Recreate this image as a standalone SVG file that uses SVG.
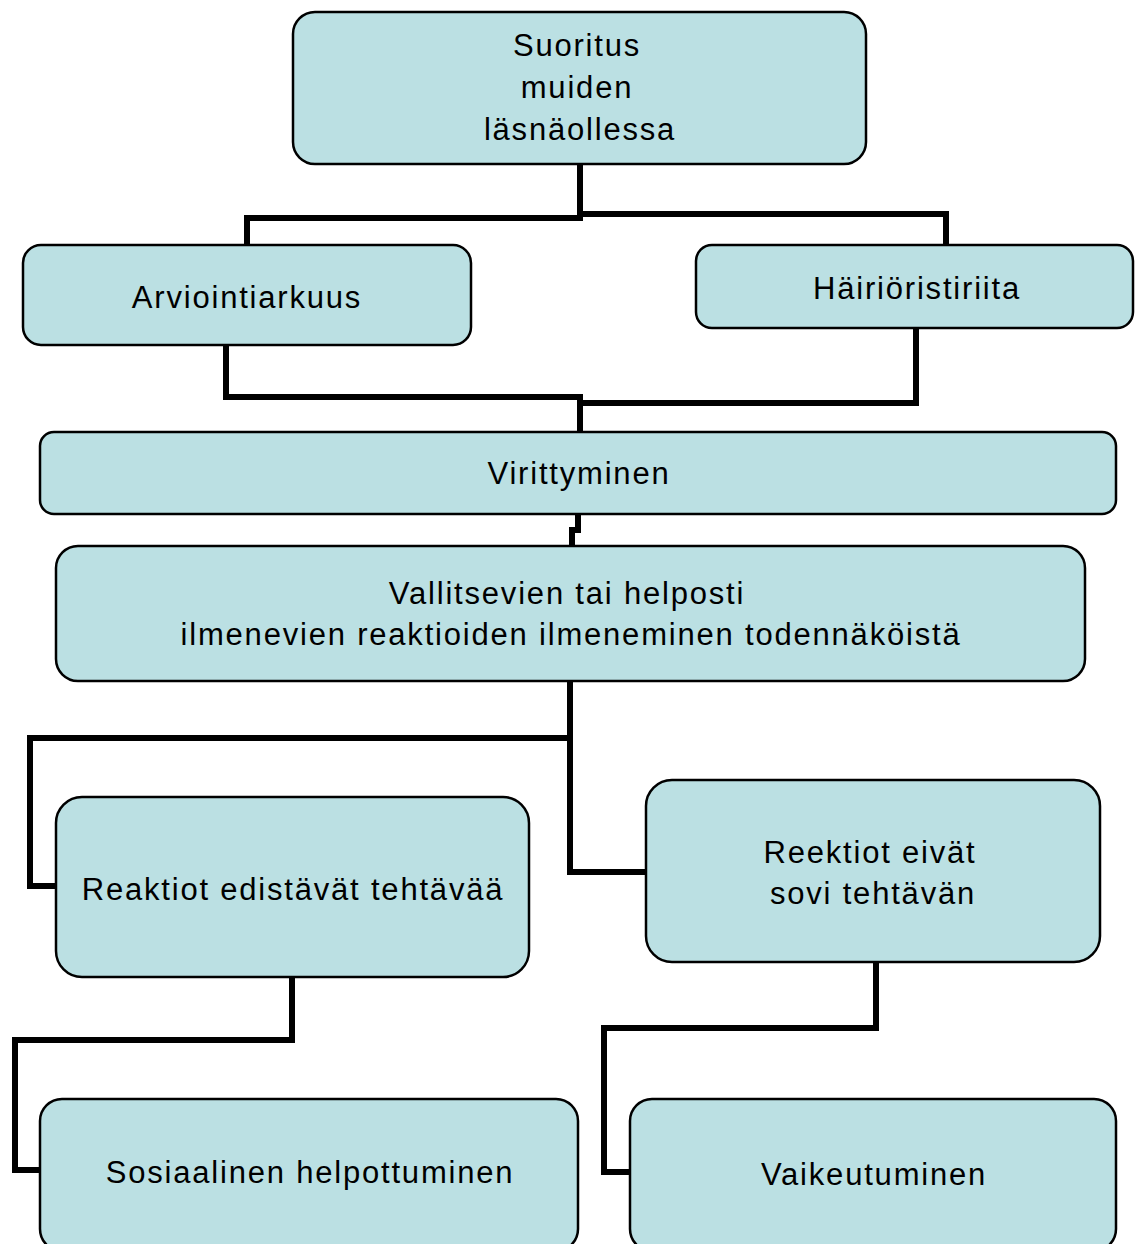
<svg xmlns="http://www.w3.org/2000/svg" width="1135" height="1244" viewBox="0 0 1135 1244">
<style>
.node{fill:#BBE0E3;stroke:#000;stroke-width:2.5}
.lbl{font-family:"Liberation Sans",Arial,sans-serif;font-size:31px;letter-spacing:1.8px;fill:#000;text-anchor:middle}
.conn{fill:none;stroke:#000;stroke-width:6;stroke-linejoin:miter;stroke-linecap:square}
</style>
<rect width="1135" height="1244" fill="#fff"/>
<g id="connectors">
<path class="conn" d="M580,166 V218 M247,243 V218 H580 M946,243 V214 H580"/>
<path class="conn" d="M226,347 V397 H580 V430 M916,330 V403 H583"/>
<path class="conn" d="M578,516 V530 H572 V544"/>
<path class="conn" d="M570,683 V872 H644 M570,738 H30 V886 H54"/>
<path class="conn" d="M292,979 V1040 H15 V1170 H38"/>
<path class="conn" d="M876,964 V1028 H604 V1172 H628"/>
</g>
<g id="n1"><rect class="node" x="293" y="12" width="573" height="152" rx="22"/>
<text class="lbl" x="577" y="56">Suoritus</text><text class="lbl" x="577" y="98">muiden</text><text class="lbl" x="580" y="140">läsnäollessa</text></g>
<g id="n2"><rect class="node" x="23" y="245" width="448" height="100" rx="18"/>
<text class="lbl" x="247" y="308">Arviointiarkuus</text></g>
<g id="n3"><rect class="node" x="696" y="245" width="437" height="83" rx="16"/>
<text class="lbl" x="917" y="299">Häiriöristiriita</text></g>
<g id="n4"><rect class="node" x="40" y="432" width="1076" height="82" rx="14"/>
<text class="lbl" x="579" y="484">Virittyminen</text></g>
<g id="n5"><rect class="node" x="56" y="546" width="1029" height="135" rx="22"/>
<text class="lbl" x="567" y="604">Vallitsevien tai helposti</text><text class="lbl" x="571" y="645">ilmenevien reaktioiden ilmeneminen todennäköistä</text></g>
<g id="n6"><rect class="node" x="56" y="797" width="473" height="180" rx="26"/>
<text class="lbl" x="293" y="900">Reaktiot edistävät tehtävää</text></g>
<g id="n7"><rect class="node" x="646" y="780" width="454" height="182" rx="26"/>
<text class="lbl" x="870" y="863">Reektiot eivät</text><text class="lbl" x="873" y="904">sovi tehtävän</text></g>
<g id="n8"><rect class="node" x="40" y="1099" width="538" height="152" rx="22"/>
<text class="lbl" x="310" y="1183">Sosiaalinen helpottuminen</text></g>
<g id="n9"><rect class="node" x="630" y="1099" width="486" height="152" rx="22"/>
<text class="lbl" x="874" y="1185">Vaikeutuminen</text></g>
</svg>
